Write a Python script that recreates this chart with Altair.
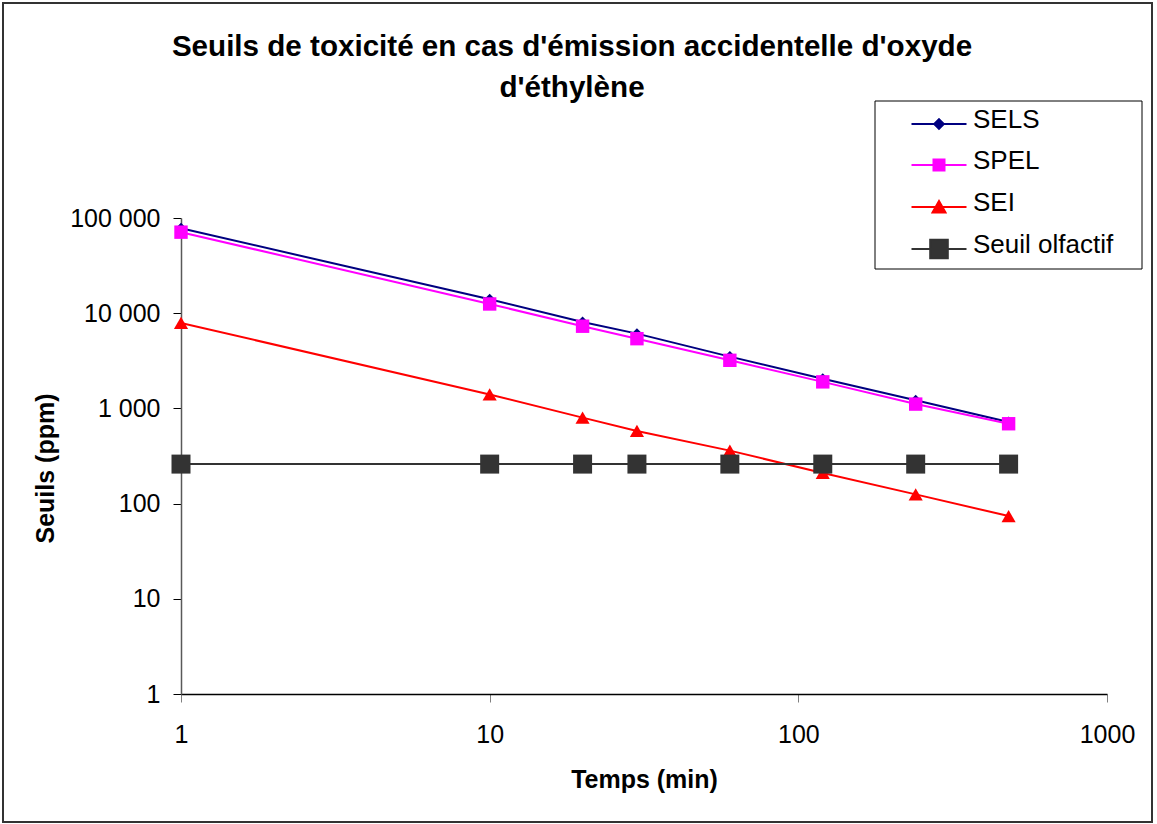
import altair as alt
import pandas as pd

# ---- data ----
temps = [1, 10, 20, 30, 60, 120, 240, 480]
sels = [78000, 14000, 8100, 6100, 3500, 2050, 1220, 720]
spel = [71000, 12500, 7300, 5400, 3200, 1900, 1110, 690]
sei = [7900, 1400, 800, 580, 360, 210, 125, 74]
seuil_olfactif = [260, 260, 260, 260, 260, 260, 260, 260]
noms_series = ["SELS", "SPEL", "SEI", "Seuil olfactif"]
x_ticks = [1, 10, 100, 1000]
y_ticks = [1, 10, 100, 1000, 10000, 100000]
titre = ["Seuils de toxicité en cas d'émission accidentelle d'oxyde", "d'éthylène"]
titre_x = "Temps (min)"
titre_y = "Seuils (ppm)"

# ---- styles ----
FONT = "Liberation Sans"
W, H = 926, 476
PAD = {"left": 181, "top": 218, "right": 50, "bottom": 130}
colors = ["#000080", "#FF00FF", "#FF0000", "#333333"]
marker_shapes = ["diamond", "square", "triangle-up", "square"]
marker_sizes = [121, 180, 200, 361]
legend_paths = [
    "M-2.75,0.4H2.75M0,-0.08L0.48,0.4L0,0.88L-0.48,0.4Z",
    "M-2.75,0.4H2.75M-0.55,-0.15H0.55V0.95H-0.55Z",
    "M-2.75,0.4H2.75M0,-0.2L0.65,0.95L-0.65,0.95Z",
    "M-2.75,0.4H2.75M-0.88,-0.52H0.88V1.32H-0.88Z",
]

rows = []
for nom, valeurs in zip(noms_series, [sels, spel, sei, seuil_olfactif]):
    for t, v in zip(temps, valeurs):
        rows.append({"Temps": t, "Seuil": v, "Serie": nom})
df = pd.DataFrame(rows)

x_enc = alt.X(
    "Temps:Q",
    scale=alt.Scale(type="log", domain=[1, 1000], nice=False),
    axis=alt.Axis(
        values=x_ticks, labelExpr="format(datum.value, 'd')", grid=False,
        tickSize=8, tickColor="#808080", domainColor="#000000", domainWidth=1.5,
        labelFont=FONT, labelFontSize=25, labelColor="black", labelPadding=20,
        labelFlush=False, labelOverlap=False,
        title=titre_x, titleFont=FONT, titleFontSize=25, titleFontWeight="bold",
        titleColor="black", titleX=463, titleY=93, titleBaseline="alphabetic",
        titleAlign="center",
    ),
)
y_enc = alt.Y(
    "Seuil:Q",
    scale=alt.Scale(type="log", domain=[1, 100000], nice=False),
    axis=alt.Axis(
        values=y_ticks, labelExpr="replace(format(datum.value, ','), ',', ' ')",
        grid=False, tickSize=8, tickColor="#000000", domainColor="#595959",
        domainWidth=1.5, labelFont=FONT, labelFontSize=25, labelColor="black",
        labelPadding=13, labelFlush=False, labelOverlap=False,
        title=titre_y, titleFont=FONT, titleFontSize=25, titleFontWeight="bold",
        titleColor="black", titleX=-128, titleY=250, titleAngle=270,
        titleBaseline="alphabetic", titleAlign="center",
    ),
)

one = pd.DataFrame({"k": [0]})
outer_frame = alt.Chart(one).mark_rect(
    fill="white", fillOpacity=0, stroke="#333333", strokeWidth=2
).encode(x=alt.value(-178), x2=alt.value(971), y=alt.value(-215), y2=alt.value(604))

legend_frame = alt.Chart(one).mark_rect(
    fill="white", stroke="#000000", strokeWidth=1
).encode(x=alt.value(694), x2=alt.value(961), y=alt.value(-117), y2=alt.value(51))

base = alt.Chart(df)

line_layers = []
point_layers = []
for nom, col, shp, sz in zip(noms_series, colors, marker_shapes, marker_sizes):
    serie = base.transform_filter(alt.datum.Serie == nom)
    line_layers.append(
        serie.mark_line(strokeWidth=2, color=col).encode(x=x_enc, y=y_enc)
    )
    point_layers.append(
        serie.mark_point(filled=True, opacity=1, shape=shp, size=sz, color=col, strokeWidth=0)
        .encode(x=x_enc, y=y_enc)
    )

leg = alt.Legend(
    title=None, orient="none", legendX=745, legendY=-111, padding=0,
    labelFont=FONT, labelFontSize=26, labelColor="black", labelLimit=400,
    symbolSize=400, symbolStrokeWidth=2, rowPadding=15, labelOffset=21,
)
# legend-only layer (no rows drawn): the legend is built from the scale domains
legend_layer = base.transform_filter("false").mark_point(
    filled=True, opacity=1, strokeWidth=2
).encode(
    fill=alt.Fill("Serie:N", scale=alt.Scale(domain=noms_series, range=colors), legend=leg),
    stroke=alt.Stroke("Serie:N", scale=alt.Scale(domain=noms_series, range=colors), legend=leg),
    shape=alt.Shape("Serie:N", scale=alt.Scale(domain=noms_series, range=legend_paths), legend=leg),
)

chart = alt.layer(
    outer_frame, legend_frame, *line_layers, *point_layers, legend_layer
).properties(
    width=W, height=H,
    autosize=alt.AutoSizeParams(type="none"),
    padding=PAD,
    background="white",
    title=alt.TitleParams(
        text=titre, font=FONT, fontSize=29.6, fontWeight="bold", color="black",
        anchor="middle", dx=-72, offset=-131, lineHeight=41, baseline="bottom",
        frame="group",
    ),
).configure_view(strokeWidth=0)

chart.save("out.html", embed_options={"renderer": "svg", "actions": False})
